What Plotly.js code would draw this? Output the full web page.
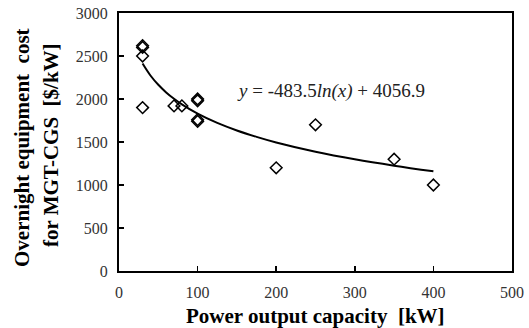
<!DOCTYPE html>
<html>
<head>
<meta charset="utf-8">
<script src="https://cdn.plot.ly/plotly-3.0.1.min.js"></script>
<style>html,body{margin:0;padding:0;background:#fff;}#chart{width:529px;height:328px;}</style>
</head>
<body>
<div id="chart"></div>
<script>
// Observed data points (power output capacity kW, cost $/kW)
var capacityKW = [30, 30, 30, 30, 70, 80, 100, 100, 100, 100, 200, 250, 350, 400];
var costPerKW  = [2620, 2600, 2500, 1900, 1920, 1920, 2000, 1980, 1760, 1740, 1200, 1700, 1300, 1000];

// Logarithmic trendline values
var trendX = [30, 40, 50, 60, 70, 80, 100, 125, 150, 175, 200, 250, 300, 350, 400];
var trendY = [2412, 2273, 2165, 2077, 2003, 1938, 1830, 1722, 1634, 1560, 1495, 1387, 1299, 1225, 1160];

var xTicks = [0, 100, 200, 300, 400, 500];
var yTicks = [0, 500, 1000, 1500, 2000, 2500, 3000];

var equationText = '<i>y</i> = -483.5<i>ln(x)</i> + 4056.9';

var serif = '"Liberation Serif", "Times New Roman", Times, serif';

var traces = [
  {
    x: trendX, y: trendY, type: 'scatter', mode: 'lines',
    line: {color: '#000', width: 2, shape: 'spline'},
    hoverinfo: 'skip', showlegend: false
  },
  {
    x: capacityKW, y: costPerKW, type: 'scatter', mode: 'markers',
    marker: {symbol: 'diamond-open', size: 9, color: '#000', line: {color: '#000', width: 1.5}},
    showlegend: false
  }
];

var layout = {
  width: 529, height: 328,
  margin: {l: 119, r: 17, t: 13, b: 57},
  paper_bgcolor: '#fff', plot_bgcolor: '#fff',
  showlegend: false,
  font: {family: serif},
  xaxis: {
    range: [0, 500], tickvals: xTicks, ticktext: xTicks.map(String),
    ticks: 'inside', ticklen: 5, tickwidth: 1.5, tickcolor: '#000',
    showline: true, linecolor: '#000', linewidth: 2, mirror: true,
    showgrid: false, zeroline: false,
    tickfont: {family: serif, size: 16, color: '#333'},
    ticklabelstandoff: 6,
    fixedrange: true
  },
  yaxis: {
    range: [0, 3000], tickvals: yTicks, ticktext: yTicks.map(String),
    ticks: 'inside', ticklen: 5, tickwidth: 1.5, tickcolor: '#000',
    showline: true, linecolor: '#000', linewidth: 2, mirror: true,
    showgrid: false, zeroline: false,
    tickfont: {family: serif, size: 16, color: '#333'},
    ticklabelstandoff: 6,
    fixedrange: true
  },
  annotations: [
    {
      text: '<b>Power output capacity  [kW]</b>', xref: 'paper', yref: 'paper',
      x: (315 - 119) / (512 - 119), y: 0, xanchor: 'center', yanchor: 'middle', showarrow: false,
      yshift: -45,
      font: {family: serif, size: 21, color: '#000'}
    },
    {
      text: '<b>Overnight equipment  cost</b>', xref: 'paper', yref: 'paper',
      x: 0, y: 0.5, xanchor: 'center', yanchor: 'middle', showarrow: false,
      textangle: -90, xshift: -97, yshift: -6,
      font: {family: serif, size: 21, color: '#000'}
    },
    {
      text: '<b>for MGT-CGS  [$/kW]</b>', xref: 'paper', yref: 'paper',
      x: 0, y: 0.5, xanchor: 'center', yanchor: 'middle', showarrow: false,
      textangle: -90, xshift: -68, yshift: -3,
      font: {family: serif, size: 21, color: '#000'}
    },
    {
      text: equationText, xref: 'x', yref: 'y',
      x: 147, y: 2093, xanchor: 'left', yanchor: 'middle', showarrow: false,
      font: {family: serif, size: 19, color: '#222'}
    }
  ]
};

Plotly.newPlot('chart', traces, layout, {displayModeBar: false, staticPlot: true});
</script>
</body>
</html>
